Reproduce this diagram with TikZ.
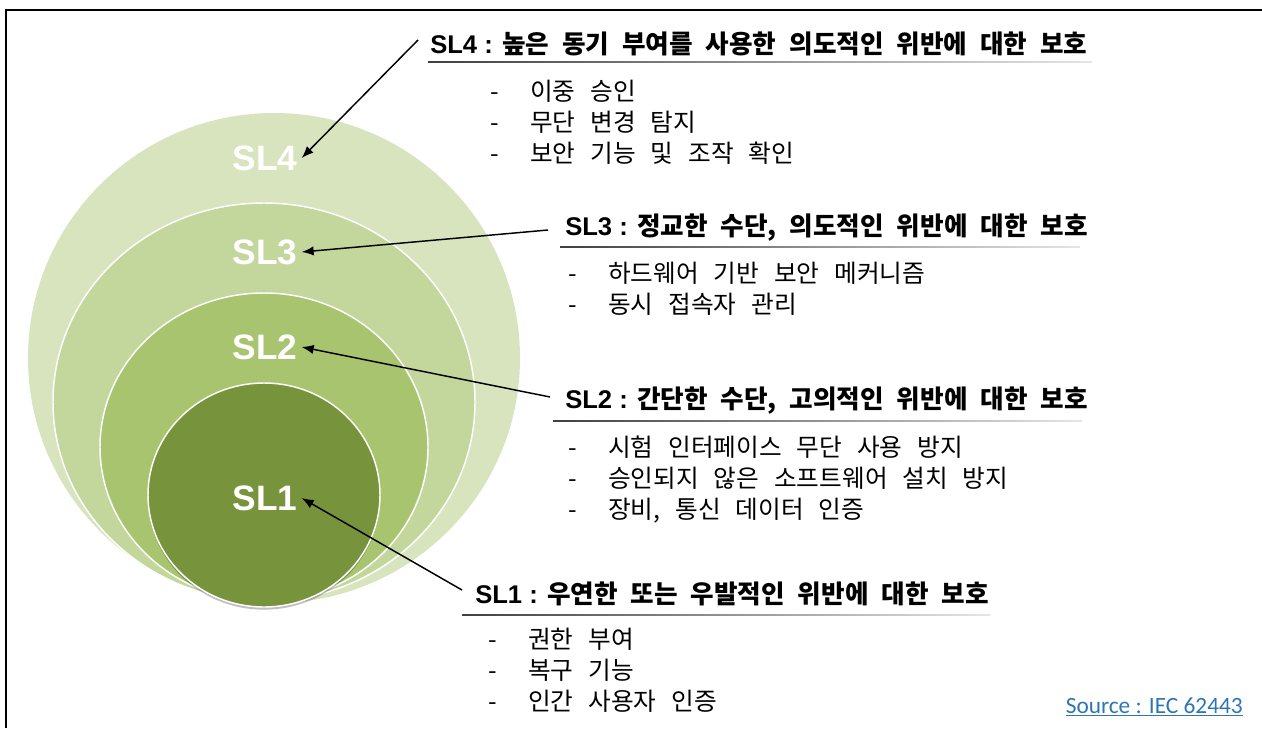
\documentclass[tikz,border=0pt]{standalone}
\usepackage{fontspec}
\setmainfont{Liberation Sans}
\newfontfamily\krreg[WordSpace=2.7]{Noto Sans CJK KR}
\newfontfamily\krbold[WordSpace=2.2]{Noto Sans CJK KR Bold}
\newfontfamily\srcfont{Carlito}
\usetikzlibrary{arrows.meta,shapes.geometric,shadows}
\definecolor{gfour}{HTML}{D7E4BD}
\definecolor{gthree}{HTML}{C3D69B}
\definecolor{gtwo}{HTML}{A9C46E}
\definecolor{gone}{HTML}{77933C}
\definecolor{srcblue}{HTML}{2E75B6}
\newcommand\dashitem{\makebox[30pt][l]{-}}
\begin{document}
\begin{tikzpicture}[x=0.75pt,y=-0.75pt,
  ring/.style={ellipse, draw=white, line width=1.1pt, inner sep=0pt},
  lvl/.style={font=\bfseries\fontsize{26.5}{30}\selectfont, text=white, inner xsep=3pt, inner ysep=0pt},
  head/.style={anchor=west, inner sep=0pt, font=\fontsize{19.2}{23}\selectfont},
  items/.style={anchor=west, inner sep=0pt, align=left, font=\krreg\fontsize{18.5}{23.25}\selectfont},
  conn/.style={-{Latex[length=9pt,width=7pt]}, line width=1.1pt},
  uline/.style={left color=black!75, right color=black!10}
]
\useasboundingbox (0,0) rectangle (1262,728);
\draw[line width=1.5pt] (6,728) -- (6,10) -- (1262,10);
% rings
\node[ring, fill=gfour, draw=none, minimum width=369pt, minimum height=367.5pt] (c4) at (274,358) {};
\node[ring, fill=gthree, minimum width=316.5pt, minimum height=298.5pt] (c3) at (264,402) {};
\node[ring, fill=gtwo, minimum width=246pt, minimum height=231pt] (c2) at (264,447) {};
\node[ring, fill=gone, minimum width=174pt, minimum height=168pt,
      drop shadow={shadow xshift=0pt, shadow yshift=-2pt, opacity=0.25, fill=black}] (c1) at (264,495) {};
% level labels
\node[lvl] (l4) at (265,158) {SL4};
\node[lvl] (l3) at (265,252) {SL3};
\node[lvl] (l2) at (265,347) {SL2};
\node[lvl] (l1) at (265,498) {SL1};
% headings
\node[head] (h4) at (430,44) {\bfseries SL4 : {\krbold 높은 동기 부여를 사용한 의도적인 위반에 대한 보호}};
\node[head] (h3) at (565,228) {\bfseries SL3 : {\krbold 정교한 수단, 의도적인 위반에 대한 보호}};
\node[head] (h2) at (565,401) {\bfseries SL2 : {\krbold 간단한 수단, 고의적인 위반에 대한 보호}};
\node[head] (h1) at (475,594) {\bfseries SL1 : {\krbold 우연한 또는 우발적인 위반에 대한 보호}};
% underlines
\fill[uline] (428,61.2) rectangle (1092,62.8);
\fill[uline] (560,246.2) rectangle (1080,247.8);
\fill[uline] (553,420.2) rectangle (1082,421.8);
\fill[uline] (462,614.2) rectangle (990,615.8);
% connectors
\coordinate (a4) at (418,40);
\coordinate (a3) at (548,230);
\coordinate (a2) at (550,397);
\coordinate (a1) at (462,590);
\draw[conn] (a4) -- (l4.east);
\draw[conn] (a3) -- (l3.east);
\draw[conn] (a2) -- (l2.east);
\draw[conn] (a1) -- (l1.east);
% items
\node[items] (i4) at (490,122) {\dashitem 이중 승인\\\dashitem 무단 변경 탐지\\\dashitem 보안 기능 및 조작 확인};
\node[items] (i3) at (568,288.5) {\dashitem 하드웨어 기반 보안 메커니즘\\\dashitem 동시 접속자 관리};
\node[items] (i2) at (568,479.5) {\dashitem 시험 인터페이스 무단 사용 방지\\\dashitem 승인되지 않은 소프트웨어 설치 방지\\\dashitem 장비, 통신 데이터 인증};
\node[items] (i1) at (488,670) {\dashitem 권한 부여\\\dashitem 복구 기능\\\dashitem 인간 사용자 인증};
% source
\node[anchor=base east, inner sep=0pt, text=srcblue, font=\srcfont\fontsize{17.5}{21}\selectfont] (src) at (1243,713) {\underline{Source : IEC 62443}};
\end{tikzpicture}
\end{document}
